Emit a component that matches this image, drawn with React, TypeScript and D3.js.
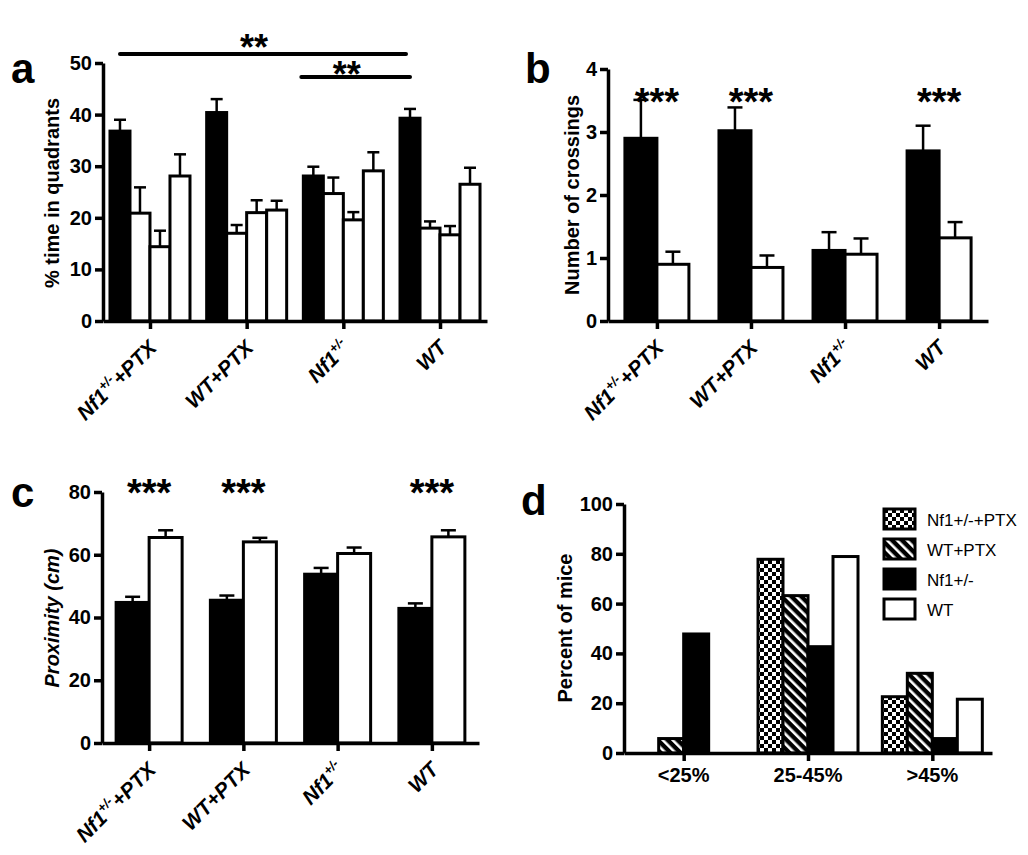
import { useEffect, useRef } from "react";
import * as d3 from "d3";

const FONT = "'Liberation Sans', Arial, Helvetica, sans-serif";

const groups = ["Nf1+/-+PTX", "WT+PTX", "Nf1+/-", "WT"];

// a: % time in quadrants (target quadrant first)
const quadTarget = [36.8, 40.4, 28.1, 39.3];
const quadOther1 = [20.9, 17.0, 24.7, 18.0];
const quadOther2 = [14.4, 21.0, 19.6, 16.7];
const quadOther3 = [28.1, 21.5, 29.1, 26.5];
const quadTargetErr = [2.2, 2.6, 1.8, 1.8];
const quadOther1Err = [5.0, 1.6, 3.1, 1.3];
const quadOther2Err = [3.1, 2.4, 1.5, 1.7];
const quadOther3Err = [4.2, 1.8, 3.6, 3.2];

// b: number of crossings
const crossTarget = [2.9, 3.02, 1.12, 2.7];
const crossOpposite = [0.9, 0.85, 1.06, 1.32];
const crossTargetErr = [0.61, 0.37, 0.29, 0.4];
const crossOppositeErr = [0.2, 0.19, 0.25, 0.25];
const crossStars = ["***", "***", "", "***"];

// c: proximity (cm)
const proxTarget = [44.8, 45.5, 53.8, 42.9];
const proxOpposite = [65.5, 64.1, 60.4, 65.7];
const proxTargetErr = [1.8, 1.5, 2.0, 1.6];
const proxOppositeErr = [2.3, 1.3, 1.9, 2.1];
const proxStars = ["***", "***", "", "***"];

// d: percent of mice per bin
const bins = ["<25%", "25-45%", ">45%"];
const pctNf1Ptx = [0, 77.8, 22.6];
const pctWtPtx = [5.8, 63.2, 32.0];
const pctNf1 = [47.8, 42.7, 5.8];
const pctWt = [0, 78.9, 21.6];

function catLabel(text: any, label: string, fs: number) {
  if (label.startsWith("Nf1+/-")) {
    text.append("tspan").text("Nf1");
    text
      .append("tspan")
      .attr("font-size", fs * 0.62)
      .attr("dy", -fs * 0.42)
      .text("+/-");
    const rest = label.slice(6);
    if (rest) {
      text.append("tspan").attr("dy", fs * 0.42).text(rest);
    }
  } else {
    text.text(label);
  }
}

function drawPanel(svg: any, cfg: any) {
  const g = svg.append("g");
  const y = d3.scaleLinear().domain([0, cfg.max]).range([cfg.yBottom, cfg.yTop]);
  const x = d3
    .scalePoint()
    .domain(cfg.cats)
    .range([cfg.x0, cfg.x1])
    .padding(cfg.pad);
  const n = cfg.series.length;
  const inner = d3
    .scaleBand()
    .domain(d3.range(n).map(String))
    .range([-(n * cfg.barW) / 2, (n * cfg.barW) / 2]);
  const barX = (i: number, si: number) =>
    (x(cfg.cats[i]) as number) + (inner(String(si)) as number);

  // bars
  cfg.series.forEach((s: any, si: number) => {
    const rows = s.values
      .map((v: number, i: number) => ({ v, i }))
      .filter((d: any) => d.v > 0);
    g.selectAll(null)
      .data(rows)
      .enter()
      .append("rect")
      .attr("x", (d: any) => barX(d.i, si))
      .attr("y", (d: any) => y(d.v))
      .attr("width", inner.bandwidth())
      .attr("height", (d: any) => y(0) - y(d.v))
      .attr("fill", s.fill)
      .attr("stroke", "#000")
      .attr("stroke-width", 3);

    if (s.err) {
      s.values.forEach((v: number, i: number) => {
        const cx = barX(i, si) + inner.bandwidth() / 2;
        const top = y(v + s.err[i]);
        g.append("line")
          .attr("x1", cx).attr("x2", cx)
          .attr("y1", y(v)).attr("y2", top)
          .attr("stroke", "#000").attr("stroke-width", 2.5);
        g.append("line")
          .attr("x1", cx - cfg.capW / 2).attr("x2", cx + cfg.capW / 2)
          .attr("y1", top).attr("y2", top)
          .attr("stroke", "#000").attr("stroke-width", 2.5);
      });
    }
  });

  // axes
  const yAxis = d3
    .axisLeft(y)
    .tickValues(d3.range(0, cfg.max + 0.001, cfg.step))
    .tickFormat(d3.format("d"))
    .tickSize(8)
    .tickSizeOuter(0)
    .tickPadding(3);
  const ya = g.append("g").attr("transform", `translate(${cfg.x0},0)`).call(yAxis);
  const xAxis = d3.axisBottom(x).tickSize(8).tickSizeOuter(0).tickFormat(() => "");
  const xa = g.append("g").attr("transform", `translate(0,${cfg.yBottom})`).call(xAxis);
  [ya, xa].forEach((a) => {
    a.selectAll("path").attr("stroke", "#000").attr("stroke-width", 3.5);
    a.selectAll("line").attr("stroke", "#000").attr("stroke-width", 3.5);
    a.selectAll("text")
      .attr("fill", "#000")
      .attr("font-family", FONT)
      .attr("font-weight", "bold")
      .attr("font-size", 20);
  });

  // category labels
  cfg.cats.forEach((c: string) => {
    const px = x(c) as number;
    if (cfg.rotated) {
      const t = g
        .append("text")
        .attr("transform", `translate(${px + 8},${cfg.yBottom + 28}) rotate(-45)`)
        .attr("text-anchor", "end")
        .attr("font-family", FONT)
        .attr("font-weight", "bold")
        .attr("font-style", "italic")
        .attr("font-size", 21);
      catLabel(t, c, 21);
    } else {
      g.append("text")
        .attr("x", px)
        .attr("y", cfg.yBottom + 29)
        .attr("text-anchor", "middle")
        .attr("font-family", FONT)
        .attr("font-weight", "bold")
        .attr("font-size", 20)
        .text(c);
    }
  });

  // y label
  g.append("text")
    .attr("transform", `translate(${cfg.yLabelX},${cfg.yLabelY}) rotate(-90)`)
    .attr("text-anchor", "middle")
    .attr("font-family", FONT)
    .attr("font-weight", "bold")
    .attr("font-style", cfg.yLabelItalic ? "italic" : "normal")
    .attr("font-size", 20)
    .text(cfg.yLabel);

  // panel letter
  g.append("text")
    .attr("x", cfg.letterX)
    .attr("y", cfg.letterY)
    .attr("font-family", FONT)
    .attr("font-weight", "bold")
    .attr("font-size", 42)
    .text(cfg.letter);

  // stars above groups
  if (cfg.stars) {
    cfg.stars.forEach((s: string, i: number) => {
      if (!s) return;
      g.append("text")
        .attr("x", x(cfg.cats[i]) as number)
        .attr("y", cfg.starY)
        .attr("text-anchor", "middle")
        .attr("font-family", FONT)
        .attr("font-weight", "bold")
        .attr("font-size", 38)
        .text(s);
    });
  }

  return { x, y, inner, barX };
}

export default function App() {
  const ref = useRef<SVGSVGElement>(null);

  useEffect(() => {
    const svg = d3.select(ref.current);
    svg.selectAll("*").remove();

    const defs = svg.append("defs");
    const checker = defs
      .append("pattern")
      .attr("id", "checker")
      .attr("patternUnits", "userSpaceOnUse")
      .attr("width", 8)
      .attr("height", 8);
    checker.append("rect").attr("width", 8).attr("height", 8).attr("fill", "#fff");
    checker.append("rect").attr("width", 4).attr("height", 4).attr("fill", "#000");
    checker.append("rect").attr("x", 4).attr("y", 4).attr("width", 4).attr("height", 4).attr("fill", "#000");
    const hatch = defs
      .append("pattern")
      .attr("id", "hatch")
      .attr("patternUnits", "userSpaceOnUse")
      .attr("width", 7)
      .attr("height", 7)
      .attr("patternTransform", "rotate(-45)");
    hatch.append("rect").attr("width", 7).attr("height", 7).attr("fill", "#000");
    hatch.append("rect").attr("width", 2.6).attr("height", 7).attr("fill", "#fff");

    // panel a
    const a = drawPanel(svg, {
      cats: groups,
      x0: 103, x1: 487, yTop: 63, yBottom: 321, max: 50, step: 10, pad: 0.486,
      barW: 20, capW: 12, rotated: true,
      series: [
        { values: quadTarget, err: quadTargetErr, fill: "#000" },
        { values: quadOther1, err: quadOther1Err, fill: "#fff" },
        { values: quadOther2, err: quadOther2Err, fill: "#fff" },
        { values: quadOther3, err: quadOther3Err, fill: "#fff" },
      ],
      yLabel: "% time in quadrants", yLabelX: 59, yLabelY: 193,
      letter: "a", letterX: 11, letterY: 83,
    });
    // significance bars in panel a
    const barCx = (gi: number, si: number) => a.barX(gi, si) + a.inner.bandwidth() / 2;
    const comps = [
      { from: barCx(0, 0), to: barCx(3, 0) - 4, y: 54, label: "**", ty: 60 },
      { from: barCx(2, 0) - 12, to: barCx(3, 0), y: 77, label: "**", ty: 87 },
    ];
    comps.forEach((c) => {
      svg.append("line")
        .attr("x1", c.from).attr("x2", c.to)
        .attr("y1", c.y).attr("y2", c.y)
        .attr("stroke", "#000").attr("stroke-width", 4).attr("stroke-linecap", "round");
      svg.append("text")
        .attr("x", (c.from + c.to) / 2 - 9)
        .attr("y", c.ty)
        .attr("text-anchor", "middle")
        .attr("font-family", FONT)
        .attr("font-weight", "bold")
        .attr("font-size", 36)
        .text(c.label);
    });

    // panel b
    drawPanel(svg, {
      cats: groups,
      x0: 608, x1: 988, yTop: 69, yBottom: 321, max: 4, step: 1, pad: 0.52,
      barW: 32, capW: 15, rotated: true,
      series: [
        { values: crossTarget, err: crossTargetErr, fill: "#000" },
        { values: crossOpposite, err: crossOppositeErr, fill: "#fff" },
      ],
      stars: crossStars, starY: 115,
      yLabel: "Number of crossings", yLabelX: 579, yLabelY: 195,
      letter: "b", letterX: 525, letterY: 83,
    });

    // panel c
    drawPanel(svg, {
      cats: groups,
      x0: 102, x1: 479, yTop: 492, yBottom: 743, max: 80, step: 20, pad: 0.5,
      barW: 33, capW: 15, rotated: true,
      series: [
        { values: proxTarget, err: proxTargetErr, fill: "#000" },
        { values: proxOpposite, err: proxOppositeErr, fill: "#fff" },
      ],
      stars: proxStars, starY: 506,
      yLabel: "Proximity (cm)", yLabelItalic: true, yLabelX: 59, yLabelY: 618,
      letter: "c", letterX: 11, letterY: 507,
    });

    // panel d
    const dSeries = [
      { name: "Nf1+/-+PTX", values: pctNf1Ptx, fill: "url(#checker)" },
      { name: "WT+PTX", values: pctWtPtx, fill: "url(#hatch)" },
      { name: "Nf1+/-", values: pctNf1, fill: "#000" },
      { name: "WT", values: pctWt, fill: "#fff" },
    ];
    drawPanel(svg, {
      cats: bins,
      x0: 624, x1: 992, yTop: 504, yBottom: 753, max: 100, step: 20, pad: 0.48,
      barW: 25, capW: 0, rotated: false,
      series: dSeries,
      yLabel: "Percent of mice", yLabelX: 572, yLabelY: 628,
      letter: "d", letterX: 521, letterY: 515,
    });

    // legend for d
    const leg = svg.append("g").attr("transform", "translate(884,509)");
    dSeries.forEach((s, i) => {
      const row = leg.append("g").attr("transform", `translate(0,${i * 30})`);
      row.append("rect")
        .attr("width", 31).attr("height", 20)
        .attr("fill", s.fill)
        .attr("stroke", "#000").attr("stroke-width", 3);
      row.append("text")
        .attr("x", 43).attr("y", 16.5)
        .attr("font-family", FONT)
        .attr("font-size", 17)
        .text(s.name);
    });
  }, []);

  return (
    <svg
      ref={ref}
      width={1028}
      height={855}
      style={{ position: "absolute", left: 0, top: 0, background: "#fff" }}
    />
  );
}
